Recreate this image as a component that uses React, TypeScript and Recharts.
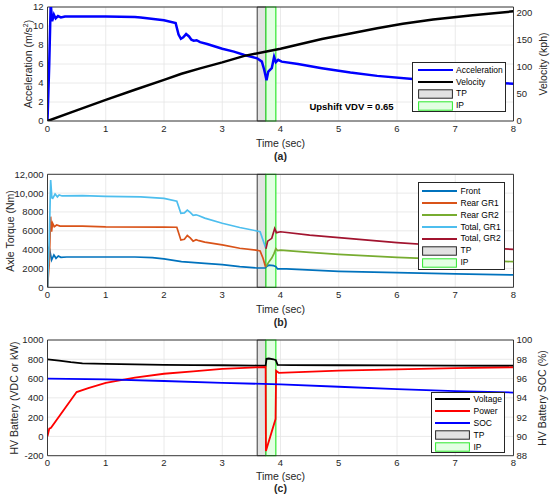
import React from 'react';
import {
  LineChart,
  Line,
  XAxis,
  YAxis,
  CartesianGrid,
  ReferenceArea,
  ReferenceLine,
  Legend,
} from 'recharts';

// ---------- shared ticks / windows ----------
const timeTicks = [0, 1, 2, 3, 4, 5, 6, 7, 8];
const accelTicks = [0, 2, 4, 6, 8, 10, 12];
const velocityTicks = [0, 50, 100, 150, 200];
const torqueTicks = [0, 2000, 4000, 6000, 8000, 10000, 12000];
const torqueTickLabels = ['0', '2000', '4000', '6000', '8000', '10,000', '12,000'];
const batteryTicks = [-200, 0, 200, 400, 600, 800, 1000];
const socTicks = [88, 90, 92, 94, 96, 98, 100];

const tpWindow = [3.6, 3.75];
const ipWindow = [3.75, 3.92];

// ---------- panel (a) ----------
const accelTime = [0, 0.03, 0.055, 0.08, 0.11, 0.14, 0.18, 0.23, 0.3, 1.0, 1.5, 1.6, 2.0, 2.2, 2.25, 2.29, 2.33, 2.38, 2.43, 2.47, 2.51, 2.56, 2.62, 2.74, 3.0, 3.2, 3.38, 3.6, 3.68, 3.72, 3.76, 3.79, 3.85, 3.89, 3.92, 3.96, 4.02, 4.3, 4.71, 5.2, 5.66, 6.27, 7.0, 7.83, 8.0];
const accelValues = [0, 6, 12.4, 10.5, 11.2, 10.8, 11.05, 10.9, 11.0, 11.0, 10.95, 10.9, 10.6, 10.3, 9.1, 8.65, 8.8, 9.15, 8.9, 8.55, 8.45, 8.5, 8.3, 8.1, 7.6, 7.3, 6.95, 6.6, 6.25, 5.4, 4.3, 5.2, 5.56, 6.75, 6.2, 6.44, 6.25, 6.0, 5.56, 5.1, 4.75, 4.41, 4.2, 3.98, 3.93];
const velocityTime = [0, 0.5, 1, 1.5, 2, 2.3, 2.62, 3.0, 3.38, 3.76, 4.0, 4.71, 5.2, 5.66, 6.1, 6.62, 7.3, 8];
const velocityValues = [0, 19.5, 38.8, 57.5, 75.7, 87, 97, 108, 120, 128, 133, 151, 161, 171, 179, 187, 195, 202];

// ---------- panel (b) ----------
const frontTime = [0, 0.025, 0.04, 0.07, 0.11, 0.146, 0.186, 0.23, 0.33, 1.5, 1.8, 2.0, 2.3, 2.7, 3.0, 3.3, 3.6, 3.74, 3.76, 3.8, 3.88, 3.92, 3.95, 4.1, 5, 6, 7, 8];
const frontValues = [0, 4300, 3900, 2900, 3430, 3080, 3330, 3186, 3220, 3220, 3150, 3010, 2726, 2550, 2400, 2200, 2050, 2050, 2200, 2350, 2300, 2200, 1950, 1950, 1700, 1550, 1420, 1320];
const rearGr1Time = [0, 0.03, 0.054, 0.07, 0.087, 0.116, 0.157, 0.215, 0.6, 1.0, 2.0, 2.22, 2.29, 2.35, 2.4, 2.45, 2.5, 2.55, 2.6, 2.7, 3.0, 3.3, 3.6, 3.65, 3.7, 3.745];
const rearGr1Values = [0, 2500, 7500, 5900, 6800, 6440, 6620, 6500, 6500, 6420, 6400, 6380, 5020, 5100, 5500, 5250, 4900, 5050, 4950, 4800, 4500, 4150, 3930, 3850, 3080, 2130];
const rearGr2Time = [3.75, 3.8, 3.85, 3.89, 3.92, 3.95, 4.0, 4.5, 5, 6, 7, 8];
const rearGr2Values = [2200, 2700, 3100, 3600, 4100, 3900, 3950, 3700, 3500, 3180, 2930, 2720];
const totalGr1Time = [0, 0.03, 0.054, 0.075, 0.09, 0.13, 0.17, 0.2, 0.25, 0.6, 1, 1.6, 2.0, 2.22, 2.29, 2.35, 2.4, 2.45, 2.5, 2.55, 2.6, 2.7, 3.0, 3.3, 3.6, 3.65, 3.7, 3.745];
const totalGr1Values = [0, 5000, 11400, 9500, 9450, 9900, 9600, 9800, 9700, 9730, 9650, 9600, 9450, 9150, 7860, 7900, 8200, 7950, 7650, 7700, 7600, 7350, 6800, 6350, 5980, 5900, 5000, 4200];
const totalGr2Time = [3.75, 3.78, 3.85, 3.9, 3.93, 4.0, 4.5, 5, 6, 7, 8];
const totalGr2Values = [4100, 4900, 5200, 6250, 5800, 5900, 5550, 5270, 4740, 4330, 4030];

// ---------- panel (c) ----------
const voltageTime = [0, 0.2, 0.4, 0.6, 1, 1.5, 2, 2.5, 3, 3.6, 3.745, 3.76, 3.8, 3.88, 3.92, 3.95, 4.2, 5, 6, 7, 8];
const voltageValues = [800, 785, 770, 758, 752, 748, 742, 740, 738, 735, 735, 805, 808, 800, 790, 742, 740, 738, 737, 735, 733];
const powerTime = [0, 0.03, 0.06, 0.5, 0.7, 1, 1.5, 2, 2.5, 3, 3.6, 3.745, 3.75, 3.915, 3.925, 3.97, 5, 6, 7, 8];
const powerValues = [0, 80, 90, 460, 500, 555, 610, 650, 675, 700, 717, 720, -150, 180, 680, 660, 682, 695, 708, 717];
const socTime = [0, 1, 2, 3, 4, 5, 6, 7, 8];
const socValues = [96.0, 95.92, 95.75, 95.55, 95.4, 95.15, 94.9, 94.7, 94.55];

const pts = (ts: number[], vs: number[]) => ts.map((t, i) => ({ t, v: vs[i] }));

// ---------- styling ----------
const AXIS = '#262626';
const GRID = '#e4e4e4';
const FONT = '"Liberation Sans", Arial, Helvetica, sans-serif';
const TICK = { fontSize: 9.5, fill: AXIS, fontFamily: FONT };
const TP_FILL = '#e2e2e2';
const TP_STROKE = '#262626';
const IP_FILL = '#e3ffe3';
const IP_STROKE = '#2ee82e';

type LegendItem = { name: string; color: string; kind: 'line' | 'tp' | 'ip' };

const legendA: LegendItem[] = [
  { name: 'Acceleration', color: '#0000ff', kind: 'line' },
  { name: 'Velocity', color: '#000000', kind: 'line' },
  { name: 'TP', color: TP_STROKE, kind: 'tp' },
  { name: 'IP', color: IP_STROKE, kind: 'ip' },
];
const legendB: LegendItem[] = [
  { name: 'Front', color: '#0072bd', kind: 'line' },
  { name: 'Rear GR1', color: '#d95319', kind: 'line' },
  { name: 'Rear GR2', color: '#77ac30', kind: 'line' },
  { name: 'Total, GR1', color: '#4dbeee', kind: 'line' },
  { name: 'Total, GR2', color: '#a2142f', kind: 'line' },
  { name: 'TP', color: TP_STROKE, kind: 'tp' },
  { name: 'IP', color: IP_STROKE, kind: 'ip' },
];
const legendC: LegendItem[] = [
  { name: 'Voltage', color: '#000000', kind: 'line' },
  { name: 'Power', color: '#ff0000', kind: 'line' },
  { name: 'SOC', color: '#0000ff', kind: 'line' },
  { name: 'TP', color: TP_STROKE, kind: 'tp' },
  { name: 'IP', color: IP_STROKE, kind: 'ip' },
];

type Box = { w: number; h: number; pt: number; rh: number; pl: number };

const makeLegend = (items: LegendItem[], box: Box) => () => (
  <div
    style={{
      width: box.w,
      height: box.h,
      boxSizing: 'border-box',
      border: `1px solid ${AXIS}`,
      background: '#fff',
      paddingTop: box.pt,
      paddingLeft: box.pl,
      fontSize: 8.5,
      color: '#000',
      fontFamily: FONT,
      lineHeight: 1,
    }}
  >
    {items.map((it) => (
      <div key={it.name} style={{ height: box.rh, display: 'flex', alignItems: 'center' }}>
        <svg width={35} height={10} style={{ display: 'block', flex: 'none' }}>
          {it.kind === 'line' ? (
            <line x1={0} x2={35} y1={5} y2={5} stroke={it.color} strokeWidth={2} />
          ) : (
            <rect
              x={0.6}
              y={0.8}
              width={33.8}
              height={8.4}
              fill={it.kind === 'tp' ? TP_FILL : IP_FILL}
              stroke={it.color}
              strokeWidth={1}
            />
          )}
        </svg>
        <span style={{ marginLeft: 3.5, whiteSpace: 'nowrap' }}>{it.name}</span>
      </div>
    ))}
  </div>
);

const vText = (lx: number, ly: number, children: React.ReactNode) => () => (
  <text
    x={lx}
    y={ly}
    transform={`rotate(-90 ${lx} ${ly})`}
    textAnchor="middle"
    dominantBaseline="central"
    fontSize={10.5}
    fill={AXIS}
    fontFamily={FONT}
  >
    {children}
  </text>
);

const bottomTitles = (timeY: number, tagY: number, tag: string, extra?: boolean) => () => (
  <g>
    <text x={280.5} y={timeY} textAnchor="middle" dominantBaseline="central" fontSize={10.5} fill={AXIS} fontFamily={FONT}>
      Time (sec)
    </text>
    <text x={280.5} y={tagY} textAnchor="middle" dominantBaseline="central" fontSize={10.5} fontWeight="bold" fill={AXIS} fontFamily={FONT}>
      {tag}
    </text>
    {extra ? (
      <text x={351.5} y={106} textAnchor="middle" dominantBaseline="central" fontSize={9.5} fontWeight="bold" fill="#000" fontFamily={FONT}>
        Upshift VDV = 0.65
      </text>
    ) : null}
  </g>
);

const W = 550;
const H = 165;
const LEFT_W = 47.5;
const RIGHT_W = 36.5;

const windows = (yId: string) => [
  <ReferenceArea
    key="tp"
    yAxisId={yId}
    x1={tpWindow[0]}
    x2={tpWindow[1]}
    fill={TP_FILL}
    fillOpacity={1}
    stroke={TP_STROKE}
    strokeWidth={0.9}
    isAnimationActive={false}
  />,
  <ReferenceArea
    key="ip"
    yAxisId={yId}
    x1={ipWindow[0]}
    x2={ipWindow[1]}
    fill={IP_FILL}
    fillOpacity={1}
    stroke={IP_STROKE}
    strokeWidth={1.2}
    isAnimationActive={false}
  />,
];

const xAxisCommon = {
  dataKey: 't',
  type: 'number' as const,
  domain: [0, 8],
  ticks: timeTicks,
  allowDataOverflow: true,
  tickSize: 0,
  tickMargin: 4,
  tick: TICK,
  stroke: AXIS,
  axisLine: { stroke: AXIS, strokeWidth: 0.9 },
  tickLine: false,
  interval: 0 as const,
};

const PanelA = () => (
  <LineChart width={W} height={H} margin={{ top: 7, right: 0, bottom: 0, left: 0 }}>
    <CartesianGrid yAxisId="left" stroke={GRID} strokeWidth={0.8} />
    <XAxis {...xAxisCommon} height={44} label={{ content: bottomTitles(143, 156, '(a)', true) }} />
    <YAxis
      yAxisId="left"
      width={LEFT_W}
      domain={[0, 12]}
      ticks={accelTicks}
      allowDataOverflow
      tickSize={0}
      tickMargin={4}
      tick={TICK}
      axisLine={{ stroke: AXIS, strokeWidth: 0.9 }}
      tickLine={false}
      interval={0}
      label={{
        content: vText(
          28,
          64,
          <>
            Acceleration (m/s<tspan dy={-3.5} fontSize={7}>2</tspan>
            <tspan dy={3.5}>)</tspan>
          </>
        ),
      }}
    />
    <YAxis
      yAxisId="right"
      orientation="right"
      width={RIGHT_W}
      domain={[0, 210]}
      ticks={velocityTicks}
      allowDataOverflow
      tickSize={0}
      tickMargin={3}
      tick={TICK}
      axisLine={{ stroke: AXIS, strokeWidth: 0.9 }}
      tickLine={false}
      interval={0}
      label={{ content: vText(543, 64, 'Velocity (kph)') }}
    />
    {windows('left')}
    <ReferenceLine yAxisId="left" y={12} stroke={AXIS} strokeWidth={0.9} />
    <Line yAxisId="left" data={pts(accelTime, accelValues)} dataKey="v" name="Acceleration" stroke="#0000ff" strokeWidth={2.5} dot={false} activeDot={false} isAnimationActive={false} />
    <Line yAxisId="right" data={pts(velocityTime, velocityValues)} dataKey="v" name="Velocity" stroke="#000000" strokeWidth={2.5} dot={false} activeDot={false} isAnimationActive={false} />
    <Legend
      layout="vertical"
      align="center"
      verticalAlign="middle"
      content={makeLegend(legendA, { w: 94, h: 50, pt: 1, rh: 11.9, pl: 4.5 })}
      wrapperStyle={{ left: 412, top: 62, width: 94, height: 50 }}
    />
  </LineChart>
);

const PanelB = () => (
  <LineChart width={W} height={H} margin={{ top: 9.3, right: RIGHT_W, bottom: 0, left: 0 }}>
    <CartesianGrid yAxisId="left" stroke={GRID} strokeWidth={0.8} />
    <XAxis {...xAxisCommon} height={42.7} label={{ content: bottomTitles(144, 157, '(b)') }} />
    <YAxis
      yAxisId="left"
      width={LEFT_W}
      domain={[0, 12000]}
      ticks={torqueTicks}
      allowDataOverflow
      tickSize={0}
      tickMargin={4}
      tick={TICK}
      axisLine={{ stroke: AXIS, strokeWidth: 0.9 }}
      tickLine={false}
      interval={0}
      tickFormatter={(v: number) => torqueTickLabels[torqueTicks.indexOf(v)] ?? String(v)}
      label={{ content: vText(9.5, 66, 'Axle Torque (Nm)') }}
    />
    {windows('left')}
    <ReferenceLine yAxisId="left" y={12000} stroke={AXIS} strokeWidth={0.9} />
    <ReferenceLine yAxisId="left" x={8} stroke={AXIS} strokeWidth={0.9} />
    <Line yAxisId="left" data={pts(frontTime, frontValues)} dataKey="v" name="Front" stroke="#0072bd" strokeWidth={1.7} dot={false} activeDot={false} isAnimationActive={false} />
    <Line yAxisId="left" data={pts(rearGr1Time, rearGr1Values)} dataKey="v" name="Rear GR1" stroke="#d95319" strokeWidth={1.7} dot={false} activeDot={false} isAnimationActive={false} />
    <Line yAxisId="left" data={pts(rearGr2Time, rearGr2Values)} dataKey="v" name="Rear GR2" stroke="#77ac30" strokeWidth={1.7} dot={false} activeDot={false} isAnimationActive={false} />
    <Line yAxisId="left" data={pts(totalGr1Time, totalGr1Values)} dataKey="v" name="Total, GR1" stroke="#4dbeee" strokeWidth={1.7} dot={false} activeDot={false} isAnimationActive={false} />
    <Line yAxisId="left" data={pts(totalGr2Time, totalGr2Values)} dataKey="v" name="Total, GR2" stroke="#a2142f" strokeWidth={1.7} dot={false} activeDot={false} isAnimationActive={false} />
    <Legend
      layout="vertical"
      align="center"
      verticalAlign="middle"
      content={makeLegend(legendB, { w: 87.5, h: 88.3, pt: 2.3, rh: 11.95, pl: 3.5 })}
      wrapperStyle={{ left: 417.5, top: 16.7, width: 87.5, height: 88.3 }}
    />
  </LineChart>
);

const PanelC = () => (
  <LineChart width={W} height={H} margin={{ top: 10, right: 0, bottom: 0, left: 0 }}>
    <CartesianGrid yAxisId="left" stroke={GRID} strokeWidth={0.8} />
    <XAxis {...xAxisCommon} height={39.3} label={{ content: bottomTitles(145.7, 158, '(c)') }} />
    <YAxis
      yAxisId="left"
      width={LEFT_W}
      domain={[-200, 1000]}
      ticks={batteryTicks}
      allowDataOverflow
      tickSize={0}
      tickMargin={4}
      tick={TICK}
      axisLine={{ stroke: AXIS, strokeWidth: 0.9 }}
      tickLine={false}
      interval={0}
      label={{ content: vText(13.5, 68, 'HV Battery (VDC or kW)') }}
    />
    <YAxis
      yAxisId="right"
      orientation="right"
      width={RIGHT_W}
      domain={[88, 100]}
      ticks={socTicks}
      allowDataOverflow
      tickSize={0}
      tickMargin={3}
      tick={TICK}
      axisLine={{ stroke: AXIS, strokeWidth: 0.9 }}
      tickLine={false}
      interval={0}
      label={{ content: vText(542, 68, 'HV Battery SOC (%)') }}
    />
    {windows('left')}
    <ReferenceLine yAxisId="left" y={1000} stroke={AXIS} strokeWidth={0.9} />
    <Line yAxisId="left" data={pts(voltageTime, voltageValues)} dataKey="v" name="Voltage" stroke="#000000" strokeWidth={1.8} dot={false} activeDot={false} isAnimationActive={false} />
    <Line yAxisId="left" data={pts(powerTime, powerValues)} dataKey="v" name="Power" stroke="#ff0000" strokeWidth={1.8} dot={false} activeDot={false} isAnimationActive={false} />
    <Line yAxisId="right" data={pts(socTime, socValues)} dataKey="v" name="SOC" stroke="#0000ff" strokeWidth={1.8} dot={false} activeDot={false} isAnimationActive={false} />
    <Legend
      layout="vertical"
      align="center"
      verticalAlign="middle"
      content={makeLegend(legendC, { w: 74, h: 61.6, pt: 0.8, rh: 11.85, pl: 3 })}
      wrapperStyle={{ left: 431, top: 61.7, width: 74, height: 61.6 }}
    />
  </LineChart>
);

export default function App() {
  return (
    <div
      style={{
        position: 'absolute',
        left: 0,
        top: 0,
        width: 550,
        height: 499,
        background: '#fff',
        fontFamily: FONT,
        overflow: 'hidden',
      }}
    >
      <div style={{ position: 'absolute', left: 0, top: 0 }}>
        <PanelA />
      </div>
      <div style={{ position: 'absolute', left: 0, top: 165 }}>
        <PanelB />
      </div>
      <div style={{ position: 'absolute', left: 0, top: 330 }}>
        <PanelC />
      </div>
    </div>
  );
}
